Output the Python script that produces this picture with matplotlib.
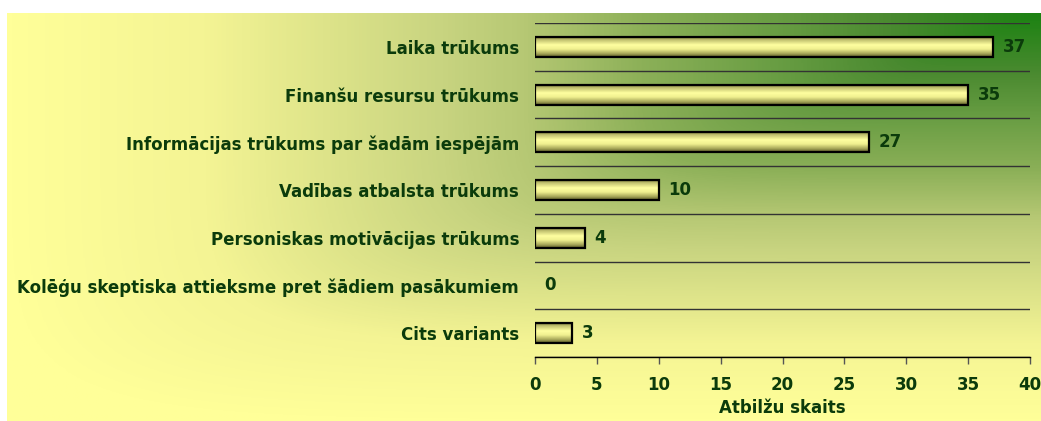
import numpy as np
import matplotlib
matplotlib.use('Agg')
import matplotlib.pyplot as plt
from matplotlib.colors import LinearSegmentedColormap

categories = [
    'Laika trūkums',
    'Finanšu resursu trūkums',
    'Informācijas trūkums par šadām iespējām',
    'Vadības atbalsta trūkums',
    'Personiskas motivācijas trūkums',
    'Kolēģu skeptiska attieksme pret šādiem pasākumiem',
    'Cits variants',
]
values = [37, 35, 27, 10, 4, 0, 3]
xticks = [0, 5, 10, 15, 20, 25, 30, 35, 40]
xlabel = 'Atbilžu skaits'

TEXT = '#0B3B0B'
FS = 12

plt.rcParams['font.family'] = ['DejaVu Sans']

fig = plt.figure(figsize=(10.41, 4.21), dpi=100)
fig.patch.set_facecolor('white')

# background "from corner" gradient panel
bg = fig.add_axes([7 / 1041, 0, 1034 / 1041, 408 / 421])
bg.axis('off')
Hh, Ww = 400, 800
yy, xx = np.mgrid[0:1:Hh * 1j, 0:1:Ww * 1j]
p = 8.0
d = (((1 - xx) ** p + yy ** p)) ** (1 / p)
d = np.clip(d, 0, 1)
bg_cmap = LinearSegmentedColormap.from_list('bg', [
    (0.0, '#1C8212'), (0.145, '#4A8A30'), (0.26, '#6A9E44'),
    (0.385, '#8CB058'), (0.5, '#B6C874'), (0.58, '#C8D480'),
    (0.81, '#F4F494'), (1.0, '#FFFF99')])
bg.imshow(d, cmap=bg_cmap, vmin=0, vmax=1, aspect='auto',
          extent=(0, 1, 0, 1), origin='upper')
bg.set_xlim(0, 1)
bg.set_ylim(0, 1)

ax = fig.add_axes([535 / 1041, 64 / 421, 495 / 1041, 334 / 421])
ax.patch.set_visible(False)

ypos = np.arange(len(categories))
bars = ax.barh(ypos, values, height=0.42, facecolor='none',
               edgecolor='black', linewidth=1.6, zorder=3)

bar_cmap = LinearSegmentedColormap.from_list('cyl', [
    (0.0, '#5A5A26'), (0.16, '#BDBD6C'), (0.42, '#FFFFA0'),
    (0.62, '#F0F090'), (0.84, '#A8A85A'), (1.0, '#5A5A26')])
grad = np.linspace(0, 1, 64)[:, None]
for bar, v in zip(bars, values):
    if v == 0:
        bar.set_visible(False)
        continue
    x0, y0 = bar.get_x(), bar.get_y()
    w, h = bar.get_width(), bar.get_height()
    im = ax.imshow(grad, cmap=bar_cmap, aspect='auto',
                   extent=(x0, x0 + w, y0 + h, y0), origin='upper', zorder=2)
    im.set_clip_path(bar)

for i, v in enumerate(values):
    ax.annotate(str(v), xy=(v, i), xytext=(7, 0), textcoords='offset points',
                va='center', ha='left', fontsize=FS, fontweight='bold',
                color=TEXT)

ax.set_xlim(0, 40)
ax.set_ylim(len(categories) - 0.5, -0.5)
ax.set_xticks(xticks)
ax.set_xticklabels([str(x) for x in xticks])
ax.set_yticks(ypos)
ax.set_yticklabels(categories)
ax.set_yticks(np.arange(-0.5, len(categories), 1), minor=True)
ax.grid(axis='y', which='minor', color='#333333', linewidth=1)
ax.grid(axis='y', which='major', visible=False)
ax.grid(axis='x', visible=False)
ax.tick_params(axis='y', which='both', length=0, pad=11.5)
ax.tick_params(axis='x', which='major', direction='out', length=5,
               width=1, color='#555555', pad=9)
for lab in ax.get_xticklabels() + ax.get_yticklabels():
    lab.set_fontsize(FS)
    lab.set_fontweight('bold')
    lab.set_color(TEXT)

for s in ['left', 'right', 'top']:
    ax.spines[s].set_visible(False)
ax.spines['bottom'].set_color('black')
ax.spines['bottom'].set_linewidth(1)

ax.set_xlabel(xlabel, fontsize=FS, fontweight='bold', color=TEXT, labelpad=3)

fig.savefig('out.png', dpi=100, facecolor='white')
